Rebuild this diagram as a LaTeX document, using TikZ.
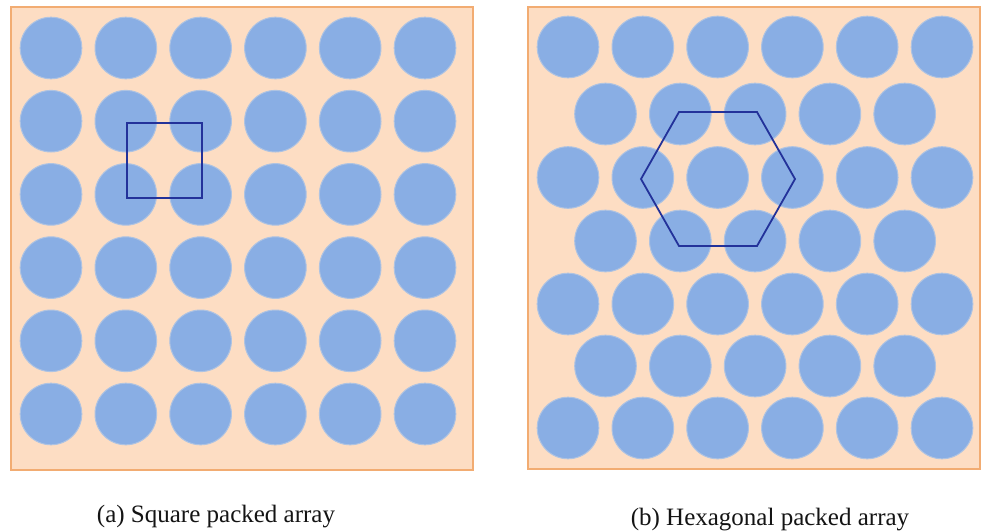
\documentclass[tikz,border=0pt]{standalone}
\usepackage{fontspec}
\setmainfont{Liberation Serif}
\definecolor{matrixfill}{HTML}{FDDDC3}
\definecolor{matrixedge}{HTML}{F2AC72}
\definecolor{fibrefill}{HTML}{89AEE4}
\definecolor{fibreedge}{HTML}{AEC3E2}
\definecolor{cellline}{HTML}{23329A}
\begin{document}
\begin{tikzpicture}[x=1pt,y=-1pt,
  panel/.style={fill=matrixfill,draw=matrixedge,line width=2.2pt},
  fibre/.style={fill=fibrefill,draw=fibreedge,line width=1pt},
  unitcell/.style={draw=cellline,line width=1.8pt,line join=miter},
  caption/.style={anchor=base,font=\fontsize{25}{30}\selectfont,text=black!92}]
\useasboundingbox (0,0) rectangle (982,531);
\fill[white] (0,0) rectangle (982,531);

% (a) square packed array
\draw[panel] (11,7) rectangle (473,470);
\foreach \i in {0,...,5}
  \foreach \j in {0,...,5}
    \draw[fibre] ({51+74.8*\i},{48+73.2*\j}) circle (30.8pt);
\draw[unitcell] (127,123) rectangle (202,198);

% (b) hexagonal packed array
\draw[panel] (528,7) rectangle (980,469);
\foreach \y in {47,177.5,304,428}
  \foreach \i in {0,...,5}
    \draw[fibre] ({568+74.8*\i},\y) circle (30.8pt);
\foreach \y in {114,241,366}
  \foreach \i in {0,...,4}
    \draw[fibre] ({605.5+74.8*\i},\y) circle (30.8pt);
\draw[unitcell] (679,112) -- (757,112) -- (795,179) -- (757,246)
  -- (679,246) -- (641,179) -- cycle;

% captions
\node[caption] (capa) at (216,522) {(a) Square packed array};
\node[caption] (capb) at (770,525) {(b) Hexagonal packed array};
\end{tikzpicture}
\end{document}
